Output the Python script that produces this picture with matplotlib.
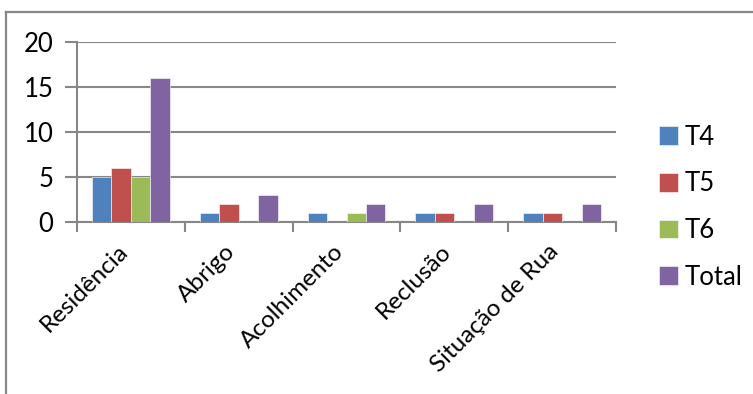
import matplotlib
matplotlib.use("Agg")
import matplotlib.pyplot as plt
from matplotlib.lines import Line2D
import numpy as np

# Data
categories = ["Residência", "Abrigo", "Acolhimento", "Reclusão", "Situação de Rua"]
series_names = ["T4", "T5", "T6", "Total"]
t4 = [5, 1, 1, 1, 1]
t5 = [6, 2, 0, 1, 1]
t6 = [5, 0, 1, 0, 0]
total = [16, 3, 2, 2, 2]
y_ticks = [0, 5, 10, 15, 20]

colors = ["#4F81BD", "#C0504D", "#9BBB59", "#8064A2"]
grid_color = "#878787"

plt.rcParams["font.family"] = ["Lato", "DejaVu Sans"]
FS = 18.5
FS_X = 17.5

W, H = 753, 394
fig = plt.figure(figsize=(W / 100, H / 100), dpi=100)

# Chart border (left and top edges visible)
fig.add_artist(Line2D([6 / W, 6 / W], [0, 1 - 12 / H], transform=fig.transFigure,
                      color=grid_color, lw=1.6))
fig.add_artist(Line2D([6 / W, 1], [1 - 12 / H, 1 - 12 / H], transform=fig.transFigure,
                      color=grid_color, lw=1.6))

left, right, top, bottom = 77, 616, 42, 222
ax = fig.add_axes([left / W, 1 - bottom / H, (right - left) / W, (bottom - top) / H])

x = np.arange(len(categories))
n = len(series_names)
bar_w = 0.18
data = [t4, t5, t6, total]
for i, (name, vals, c) in enumerate(zip(series_names, data, colors)):
    offs = (i - (n - 1) / 2) * bar_w
    ax.bar(x + offs, vals, width=bar_w, color=c, edgecolor="#ffffff",
           linewidth=0.4, label=name, zorder=3)

ax.set_xlim(-0.5, len(categories) - 0.5)
ax.set_ylim(0, 20)
ax.set_yticks(y_ticks)
ax.set_yticklabels([str(v) for v in y_ticks], fontsize=FS)
ax.yaxis.grid(True, color=grid_color, linewidth=1.5, zorder=0)
ax.set_axisbelow(True)

# category boundary ticks on x
ax.set_xticks(np.arange(-0.5, len(categories), 1.0))
ax.set_xticklabels([])
ax.tick_params(axis="x", direction="out", length=7, width=1.5, color=grid_color)
ax.tick_params(axis="y", direction="out", length=9, width=1.5, color=grid_color, pad=8)

# category labels at the group centres, rotated
for xi, lab in zip(x, categories):
    ax.text(xi - 0.13, -2.1, lab, rotation=45, ha="right", va="top",
            rotation_mode="anchor", fontsize=FS_X, transform=ax.transData)

for s in ["top", "right"]:
    ax.spines[s].set_visible(False)
ax.spines["left"].set_color(grid_color)
ax.spines["left"].set_linewidth(1.5)
ax.spines["bottom"].set_color(grid_color)
ax.spines["bottom"].set_linewidth(1.5)

leg = fig.legend(loc="upper left", bbox_to_anchor=(646 / W, 1 - 112 / H),
                 frameon=False, fontsize=FS, handlelength=0.75, handleheight=0.75,
                 handletextpad=0.25, labelspacing=0.84, borderpad=0)

fig.savefig("out.png", dpi=100)
